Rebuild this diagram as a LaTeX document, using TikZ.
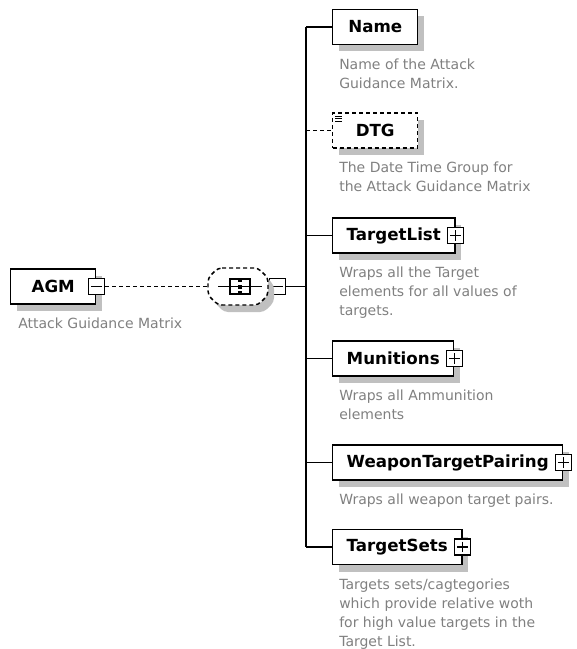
\documentclass[tikz,border=0pt]{standalone}
\usepackage{fontspec}
\setmainfont{DejaVu Sans}
\usepackage{xcolor}
\definecolor{ShadowColor}{RGB}{192,192,192}
\definecolor{DescColor}{RGB}{128,128,128}
\usetikzlibrary{positioning, shadows}

\begin{document}
\begin{tikzpicture}[
    x=0.75pt, y=-0.75pt,
    shade/.style={drop shadow={shadow xshift=4.5pt, shadow yshift=-5.25pt, fill=ShadowColor, opacity=1}},
    elem/.style={rectangle, draw, fill=white, line width=1.1pt, shade, anchor=west, minimum height=26.25pt, minimum width=63.75pt, inner xsep=10.5pt, inner ysep=0pt, font=\fontsize{12.5}{15}\selectfont\bfseries},
    optelem/.style={elem, dash pattern=on 3pt off 2.25pt},
    desc/.style={font=\fontsize{10.5}{14.25}\selectfont, text=DescColor, align=left, inner sep=0pt, anchor=north west},
    toggle/.style={rectangle, draw, fill=white, line width=0.8pt, minimum size=12pt, inner sep=0pt},
    collapse/.style={toggle, path picture={
        \draw[line width=0.8pt] ([xshift=2pt]path picture bounding box.west) -- ([xshift=-2pt]path picture bounding box.east);}},
    expand/.style={toggle, path picture={
        \draw[line width=0.8pt] ([xshift=2pt]path picture bounding box.west) -- ([xshift=-2pt]path picture bounding box.east);
        \draw[line width=0.8pt] ([yshift=-2pt]path picture bounding box.north) -- ([yshift=2pt]path picture bounding box.south);}},
    compositor/.style={rectangle, minimum width=45pt, minimum height=27.75pt, inner sep=0pt},
    link/.style={line width=1.1pt},
    optlink/.style={link, dash pattern=on 3pt off 2.25pt},
]
\useasboundingbox (0,0) rectangle (577,649);

% ============================================
% ROOT ELEMENT
% ============================================
\node[elem] (agm) at (10,286.5) {AGM\hspace{9.75pt}};
\node[collapse] (agmtoggle) at (agm.east) {};
\node[desc, below right=10pt and 6pt of agm.south west] (agmdesc) {Attack Guidance Matrix};

% ============================================
% SEQUENCE COMPOSITOR
% ============================================
\node[compositor] (seq) at (238,286.5) {};
\node[collapse, right=0.75pt of seq] (seqtoggle) {};
\begin{scope}[shift={(seq.center)}]
    % octagon with shadow
    \fill[ShadowColor, rounded corners=3pt, shift={(6,7)}]
        (-20,-18.5) -- (20,-18.5) -- (30,-8.5) -- (30,8.5) -- (20,18.5) -- (-20,18.5) -- (-30,8.5) -- (-30,-8.5) -- cycle;
    \draw[fill=white, line width=1.1pt, dash pattern=on 3pt off 2.25pt, rounded corners=3pt]
        (-20,-18.5) -- (20,-18.5) -- (30,-8.5) -- (30,8.5) -- (20,18.5) -- (-20,18.5) -- (-30,8.5) -- (-30,-8.5) -- cycle;
    % sequence symbol
    \draw[line width=0.8pt] (-20,0) -- (24,0);
    \draw[line width=0.8pt] (-8,-7.5) rectangle (12,7.5);
    \fill (0,-8.5) rectangle (4,-4.5);
    \fill (0,-2) rectangle (4,2);
    \fill (0,4.5) rectangle (4,8.5);
\end{scope}
\coordinate (trunk) at (306,286.5);

% ============================================
% CHILD ELEMENTS
% ============================================
\node[elem] (name) at (332,27) {Name\hspace{3.75pt}};
\node[desc, below right=10pt and 5.25pt of name.south west] (namedesc) {Name of the Attack\\Guidance Matrix.};

\node[optelem] (dtg) at (332,130.5) {DTG\hspace{15pt}};
\node[desc, below right=10pt and 5.25pt of dtg.south west] (dtgdesc) {The Date Time Group for\\the Attack Guidance Matrix};
\begin{scope}[shift={(dtg.north west)}]
    \draw[line width=0.6pt] (3,4) -- (10,4);
    \draw[line width=0.6pt] (3,6.5) -- (10,6.5);
    \draw[line width=0.6pt] (3,9) -- (10,9);
\end{scope}

\node[elem] (tlist) at (332,235.5) {TargetList\hspace{3.75pt}};
\node[expand] (tlisttoggle) at (tlist.east) {};
\node[desc, below right=10pt and 5.25pt of tlist.south west] (tlistdesc) {Wraps all the Target\\elements for all values of\\targets.};

\node[elem] (mun) at (332,358.5) {Munitions\hspace{3.75pt}};
\node[expand] (muntoggle) at (mun.east) {};
\node[desc, below right=10pt and 5.25pt of mun.south west] (mundesc) {Wraps all Ammunition\\elements};

\node[elem] (wtp) at (332,462.5) {WeaponTargetPairing\hspace{3.75pt}};
\node[expand] (wtptoggle) at (wtp.east) {};
\node[desc, below right=10pt and 5.25pt of wtp.south west] (wtpdesc) {Wraps all weapon target pairs.};

\node[elem] (tsets) at (332,547) {TargetSets\hspace{3.75pt}};
\node[expand] (tsetstoggle) at (tsets.east) {};
\node[desc, below right=10pt and 5.25pt of tsets.south west] (tsetsdesc) {Targets sets/cagtegories\\which provide relative woth\\for high value targets in the\\Target List.};

% ============================================
% CONNECTORS
% ============================================
\draw[optlink] (agmtoggle.east) -- (seq.west);
\draw[link] (seqtoggle.east) -- (trunk);
\draw[link] (name.west -| trunk) -- (tsets.west -| trunk);
\draw[link] (name.west -| trunk) -- (name.west);
\draw[optlink] (dtg.west -| trunk) -- (dtg.west);
\draw[link] (tlist.west -| trunk) -- (tlist.west);
\draw[link] (mun.west -| trunk) -- (mun.west);
\draw[link] (wtp.west -| trunk) -- (wtp.west);
\draw[link] (tsets.west -| trunk) -- (tsets.west);

\end{tikzpicture}
\end{document}
